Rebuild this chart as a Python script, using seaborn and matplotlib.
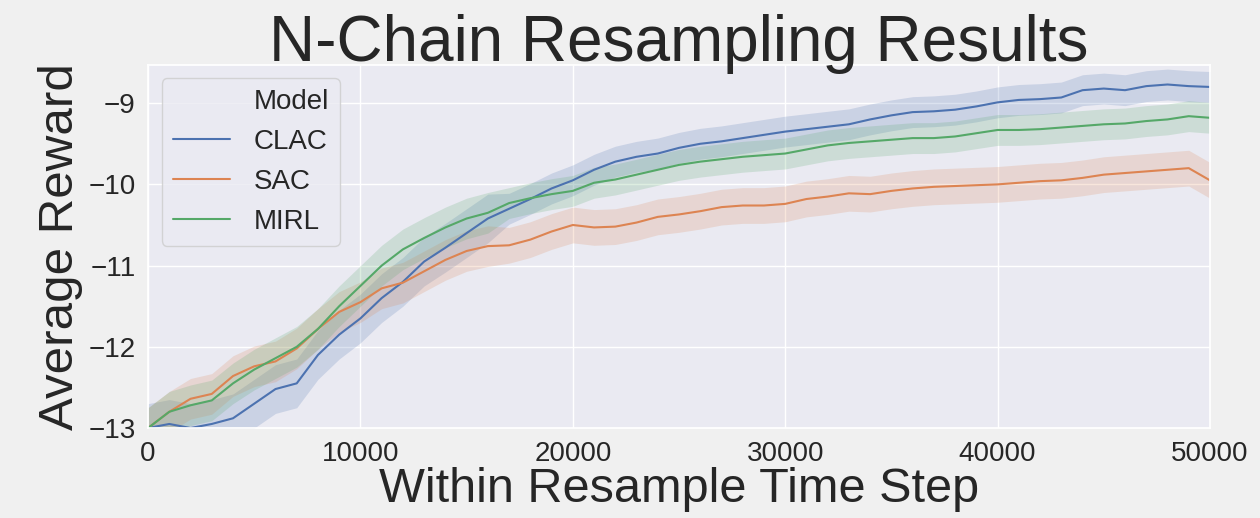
import numpy as np
import pandas as pd
import matplotlib
matplotlib.use("Agg")
import matplotlib.pyplot as plt
from matplotlib.lines import Line2D
import seaborn as sns

# time steps (every 1000 steps)
steps = list(range(0, 50001, 1000))

# mean reward, one value per 1000 steps
clac_mean = [-13.0, -12.95, -13.0, -12.95, -12.88, -12.7, -12.52, -12.45, -12.1, -11.85,
             -11.65, -11.4, -11.2, -10.95, -10.78, -10.6, -10.42, -10.3, -10.18, -10.05,
             -9.95, -9.82, -9.72, -9.66, -9.62, -9.55, -9.5, -9.47, -9.43, -9.39,
             -9.35, -9.32, -9.29, -9.26, -9.2, -9.15, -9.11, -9.1, -9.08, -9.04,
             -8.99, -8.96, -8.95, -8.93, -8.84, -8.82, -8.84, -8.79, -8.77, -8.79, -8.8]
sac_mean = [-13.0, -12.8, -12.64, -12.58, -12.36, -12.24, -12.18, -12.02, -11.78, -11.57,
            -11.45, -11.28, -11.21, -11.07, -10.93, -10.82, -10.76, -10.75, -10.68, -10.58,
            -10.5, -10.53, -10.52, -10.47, -10.4, -10.37, -10.33, -10.28, -10.26, -10.26,
            -10.24, -10.18, -10.15, -10.11, -10.12, -10.08, -10.05, -10.03, -10.02, -10.01,
            -10.0, -9.98, -9.96, -9.95, -9.92, -9.88, -9.86, -9.84, -9.82, -9.8, -9.95]
mirl_mean = [-13.0, -12.8, -12.72, -12.66, -12.45, -12.28, -12.14, -12.0, -11.78, -11.5,
             -11.25, -11.0, -10.8, -10.66, -10.53, -10.42, -10.35, -10.23, -10.17, -10.12,
             -10.08, -9.98, -9.94, -9.88, -9.82, -9.76, -9.72, -9.69, -9.66, -9.64,
             -9.62, -9.57, -9.52, -9.49, -9.47, -9.45, -9.43, -9.43, -9.41, -9.37,
             -9.33, -9.33, -9.32, -9.3, -9.28, -9.26, -9.25, -9.22, -9.2, -9.16, -9.18]

# half width of the shaded band, same steps
clac_band = [0.30] * 17 + [0.19] * 34
sac_band = [0.25] * 17 + [0.22] * 34
mirl_band = [0.25] * 17 + [0.19] * 34

models = ["CLAC", "SAC", "MIRL"]

sns.set_theme(style="darkgrid", palette="deep")
plt.rcParams['font.family'] = ['Liberation Sans', 'DejaVu Sans']

frames = []
for name, mean in zip(models, [clac_mean, sac_mean, mirl_mean]):
    frames.append(pd.DataFrame({'Step': steps, 'Reward': mean, 'Model': name}))
df = pd.concat(frames, ignore_index=True)

colors = sns.color_palette("deep", 3)

fig = plt.figure(figsize=(12.6, 5.18), dpi=100, facecolor='#f0f0f0')
ax = fig.add_axes([0.1175, 0.1737, 0.8428, 0.7008])

sns.lineplot(data=df, x='Step', y='Reward', hue='Model', palette=colors,
             linewidth=1.5, ax=ax, legend=False)

for mean, band, c in zip([clac_mean, sac_mean, mirl_mean],
                         [clac_band, sac_band, mirl_band], colors):
    m = np.array(mean)
    b = np.array(band)
    ax.fill_between(steps, m - b, m + b, color=c, alpha=0.2, linewidth=0)

ax.set_xlim(0, 50000)
ax.set_ylim(-13, -8.53)
ax.set_yticks([-13, -12, -11, -10, -9])
ax.set_xticks([0, 10000, 20000, 30000, 40000, 50000])
ax.tick_params(labelsize=20, pad=3)

ax.set_title('N-Chain Resampling Results', fontsize=46, pad=3)
ax.set_xlabel('Within Resample Time Step', fontsize=35, labelpad=0)
ax.set_ylabel('Average Reward', fontsize=35.5, labelpad=4)

handles = [Line2D([], [], alpha=0)] + [Line2D([], [], color=c, lw=1.5) for c in colors]
labels = ['Model'] + models
leg = ax.legend(handles, labels, loc='upper left', fontsize=20, frameon=True,
                bbox_to_anchor=(0.013, 0.964), borderaxespad=0, handlelength=2.05,
                borderpad=0.4, labelspacing=0.5, handletextpad=0.85)
leg.get_frame().set_facecolor('#eaeaf2')
leg.get_frame().set_edgecolor('#cccccc')

fig.savefig('out.png', dpi=100, facecolor=fig.get_facecolor())
